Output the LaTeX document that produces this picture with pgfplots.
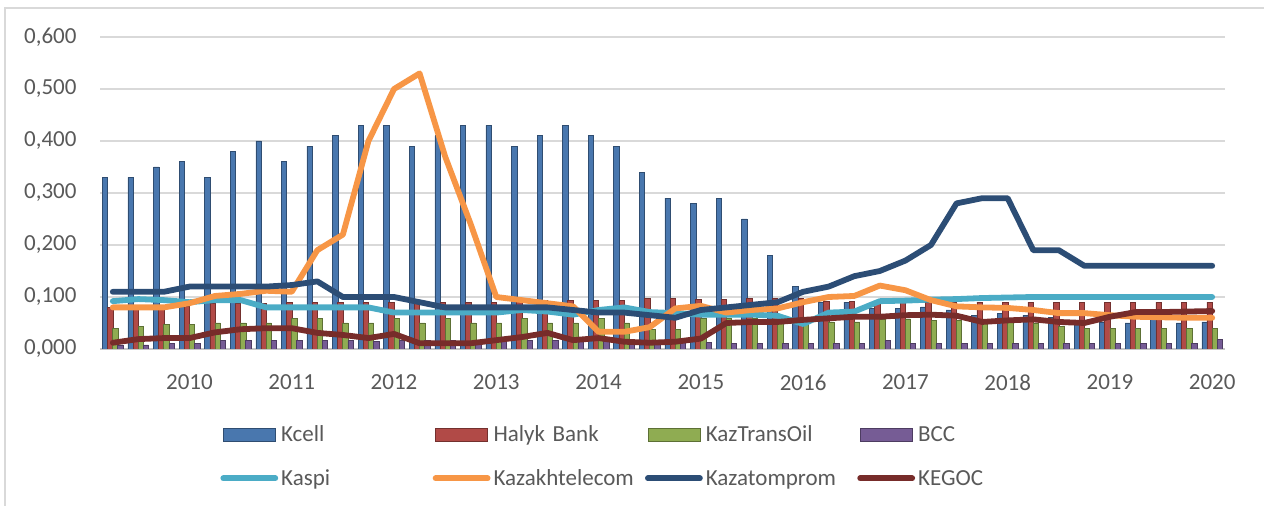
\documentclass[border=0pt]{standalone}
\usepackage{pgfplots}
\pgfplotsset{compat=1.18}
\usepackage{pgfplotstable}
\usepackage{fontspec}
\setmainfont{Carlito}

\definecolor{kcell}{HTML}{4F81BD}
\definecolor{halyk}{HTML}{C0504D}
\definecolor{kto}{HTML}{9BBB59}
\definecolor{bcc}{HTML}{8064A2}
\definecolor{kaspi}{HTML}{4BACC6}
\definecolor{ktel}{HTML}{F79646}
\definecolor{katom}{HTML}{2C4D75}
\definecolor{kegoc}{HTML}{772C2A}
\definecolor{txt}{HTML}{595959}
\definecolor{grid}{HTML}{D9D9D9}

% quarterly, 2009 Q2 (i=0) ... 2020 Q1 (i=43)
\pgfplotstableread{
i  kcell halyk kto   bcc   kaspi ktel  katom kegoc
0  0.330 0.080 0.040 0.008 0.092 0.080 0.110 0.012
1  0.330 0.080 0.044 0.008 0.096 0.080 0.110 0.019
2  0.350 0.080 0.048 0.010 0.094 0.080 0.110 0.021
3  0.360 0.082 0.048 0.011 0.090 0.088 0.120 0.021
4  0.330 0.088 0.050 0.016 0.094 0.102 0.120 0.032
5  0.380 0.088 0.050 0.016 0.094 0.106 0.120 0.038
6  0.400 0.088 0.050 0.016 0.080 0.112 0.120 0.040
7  0.360 0.090 0.059 0.016 0.080 0.110 0.123 0.040
8  0.390 0.090 0.059 0.016 0.080 0.190 0.130 0.031
9  0.410 0.090 0.050 0.016 0.080 0.220 0.100 0.027
10 0.430 0.090 0.050 0.015 0.080 0.400 0.100 0.021
11 0.430 0.090 0.059 0.016 0.070 0.500 0.100 0.029
12 0.390 0.090 0.050 0.016 0.070 0.530 0.090 0.011
13 0.410 0.090 0.059 0.016 0.070 0.370 0.080 0.011
14 0.430 0.090 0.050 0.016 0.070 0.240 0.080 0.011
15 0.430 0.090 0.050 0.016 0.070 0.100 0.080 0.017
16 0.390 0.092 0.059 0.016 0.075 0.094 0.080 0.023
17 0.410 0.094 0.050 0.016 0.072 0.088 0.080 0.031
18 0.430 0.094 0.050 0.015 0.066 0.082 0.075 0.017
19 0.410 0.094 0.059 0.015 0.075 0.033 0.070 0.021
20 0.390 0.094 0.050 0.014 0.080 0.033 0.070 0.014
21 0.340 0.098 0.037 0.013 0.071 0.042 0.065 0.012
22 0.290 0.098 0.037 0.013 0.069 0.078 0.060 0.014
23 0.280 0.096 0.059 0.012 0.066 0.083 0.075 0.020
24 0.290 0.096 0.059 0.010 0.066 0.070 0.080 0.050
25 0.250 0.097 0.059 0.010 0.066 0.075 0.085 0.052
26 0.180 0.098 0.060 0.010 0.064 0.078 0.090 0.052
27 0.120 0.098 0.052 0.010 0.048 0.090 0.110 0.056
28 0.090 0.092 0.052 0.010 0.070 0.100 0.120 0.059
29 0.090 0.092 0.052 0.010 0.072 0.102 0.140 0.062
30 0.078 0.090 0.058 0.016 0.092 0.122 0.150 0.062
31 0.078 0.090 0.058 0.010 0.093 0.113 0.170 0.065
32 0.081 0.090 0.055 0.010 0.095 0.094 0.200 0.066
33 0.075 0.090 0.055 0.010 0.096 0.082 0.280 0.064
34 0.065 0.090 0.055 0.011 0.098 0.080 0.290 0.052
35 0.069 0.090 0.055 0.010 0.099 0.079 0.290 0.055
36 0.065 0.090 0.050 0.010 0.100 0.075 0.190 0.057
37 0.060 0.090 0.043 0.010 0.100 0.069 0.190 0.052
38 0.050 0.090 0.040 0.010 0.100 0.069 0.160 0.050
39 0.052 0.090 0.040 0.010 0.100 0.065 0.160 0.062
40 0.050 0.090 0.040 0.010 0.100 0.062 0.160 0.071
41 0.059 0.090 0.040 0.010 0.100 0.061 0.160 0.071
42 0.050 0.090 0.040 0.010 0.100 0.060 0.160 0.072
43 0.052 0.090 0.040 0.019 0.100 0.060 0.160 0.073
}\data

\pgfplotsset{
  bars/.style={ybar, bar width=0.21, fill=#1!92!black, draw=#1!60!black, line width=0.3pt,
    legend image code/.code={\draw[##1] (0pt,0.25pt) rectangle (26pt,6.75pt);}},
  lns/.style={sharp plot, no marks, draw=#1, line width=2.9pt, line join=round, line cap=round,
    legend image code/.code={\draw[##1] (0pt,3.5pt) -- (26pt,3.5pt);}},
}

\begin{document}
\fontsize{11.5}{13}\selectfont
\begin{tikzpicture}
\useasboundingbox (0,0) rectangle (632pt,-253pt);
\draw[grid, line width=0.6pt] (2.5pt,-253pt) -- (2.5pt,-4pt) -- (632pt,-4pt);
\begin{axis}[
    at={(50pt,-174.5pt)}, anchor=south west,
    scale only axis, width=562.5pt, height=156pt,
    xmin=-0.5, xmax=43.5, ymin=0, ymax=0.6,
    axis x line*=bottom, axis y line*=left,
    x axis line style={draw=grid!80!gray, line width=0.8pt},
    y axis line style={draw=none},
    xtick={3,7,...,43},
    xticklabels={2010,2011,2012,2013,2014,2015,2016,2017,2018,2019,2020},
    ytick={0,0.1,0.2,0.3,0.4,0.5,0.6},
    ymajorgrids, major grid style={draw=grid, line width=0.8pt},
    major tick length=0pt,
    /pgf/number format/assume math mode=true,
    tick label style={font=\fontsize{11.5}{13}\selectfont, text=txt},
    yticklabel style={/pgf/number format/.cd, fixed, fixed zerofill, precision=3, use comma, /tikz/.cd, xshift=-7.7pt},
    xticklabel style={yshift=-9pt},
    legend columns=4,
    legend style={at={(axis description cs:0.10667,-0.24359)}, anchor=north west,
      draw=none, fill=none, inner sep=0pt, row sep=12pt,
      cells={anchor=base west},
      nodes={inner sep=0pt, text height=8pt, text depth=2pt, text width=75.75pt, align=left,
        font=\fontsize{11.5}{13}\selectfont, text=txt},
      /tikz/every odd column/.append style={column sep=1.5pt}},
]
\addplot[bars=kcell, bar shift=-0.3] table[x=i, y=kcell] {\data};
\addplot[bars=halyk, bar shift=-0.1] table[x=i, y=halyk] {\data};
\addplot[bars=kto,   bar shift=0.1]  table[x=i, y=kto]   {\data};
\addplot[bars=bcc,   bar shift=0.3]  table[x=i, y=bcc]   {\data};
\addplot[lns=kaspi] table[x=i, y=kaspi] {\data};
\addplot[lns=ktel]  table[x=i, y=ktel]  {\data};
\addplot[lns=katom] table[x=i, y=katom] {\data};
\addplot[lns=kegoc] table[x=i, y=kegoc] {\data};
\legend{Kcell,Halyk Bank,KazTransOil,BCC,Kaspi,Kazakhtelecom,Kazatomprom,KEGOC}
\end{axis}
\end{tikzpicture}
\end{document}
